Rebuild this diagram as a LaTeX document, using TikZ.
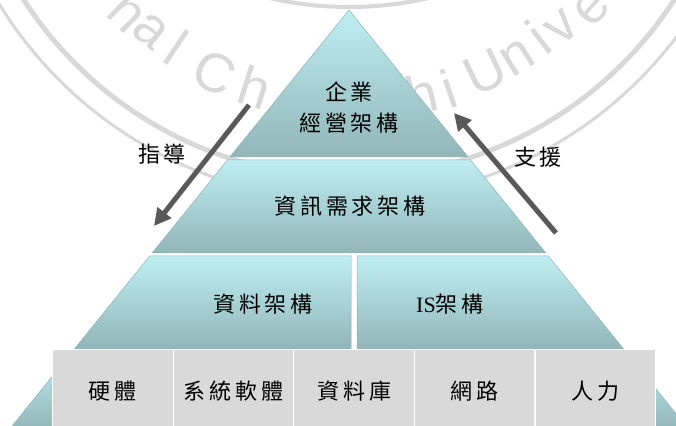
\documentclass[tikz,border=0pt]{standalone}
\usepackage{fontspec}
\setmainfont{Liberation Serif}
\newfontfamily\cjk[LetterSpace=18]{Noto Sans CJK TC}
\newfontfamily\wmfont{Liberation Sans}
\usetikzlibrary{arrows.meta}
\definecolor{bandtop}{RGB}{190,238,242}
\definecolor{bandbot}{RGB}{146,181,184}
\definecolor{bandedge}{RGB}{140,178,181}
\definecolor{cellfill}{RGB}{217,217,217}
\definecolor{wm}{RGB}{216,216,216}
\definecolor{arrowc}{RGB}{89,89,89}
\begin{document}
\begin{tikzpicture}[x=1pt,y=1pt,
  band/.style={top color=bandtop,bottom color=bandbot,draw=bandedge,line width=0.5pt},
  lbl/.style={font=\cjk\fontsize{22}{26}\selectfont,inner sep=0pt,text=black},
  cell/.style={fill=cellfill,draw=white,line width=1.2pt,minimum width=120.6pt,minimum height=84pt,anchor=north west,inner sep=0pt,font=\cjk\fontsize{22}{26}\selectfont},
  guide/.style={draw=arrowc,line width=5pt,-{Triangle[length=17pt,width=17pt]}},
  wmring/.style={draw=wm},
  wmletter/.style={text=wm,font=\wmfont\fontsize{55}{55}\selectfont,inner sep=0pt}]
\useasboundingbox (0,0) rectangle (676,425);
\clip (0,0) rectangle (676,425);
% watermark
\draw[wmring,line width=5pt] (349,635) circle (387);
\draw[wmring,line width=3pt] (349,635) circle (410);
\draw[wmring,line width=4pt] (349,771) circle (353);
\node[wmletter,rotate=-44.7] (w1) at (126,410) {n};
\node[wmletter,rotate=-39.4] (w2) at (151,394) {a};
\node[wmletter,rotate=-33.8] (w3) at (177,378) {l};
\node[wmletter,rotate=-25.3] (w4) at (215,352) {C};
\node[wmletter,rotate=-17.6] (w5) at (255,338) {h};
\node[wmletter,rotate=13.5] (w6) at (422,331) {h};
\node[wmletter,rotate=19] (w7) at (449,336) {i};
\node[wmletter,rotate=25.7] (w8) at (485,353) {U};
\node[wmletter,rotate=32.2] (w9) at (518,367) {n};
\node[wmletter,rotate=37.4] (w10) at (538,388) {i};
\node[wmletter,rotate=41.8] (w11) at (562,397) {v};
\node[wmletter,rotate=48.1] (w12) at (592,417) {e};
% pyramid bands
\path[band] (349,415) -- (468.1,268) -- (229.9,268) -- cycle;
\path[band] (227.5,265) -- (470.5,265) -- (545.8,172) -- (152.2,172) -- cycle;
\path[band] (149.7,169) -- (351,169) -- (351,76) -- (74.4,76) -- cycle;
\path[band] (357,169) -- (548.3,169) -- (623.6,76) -- (357,76) -- cycle;
\path[band] (72,73) -- (626,73) -- (689.2,-5) -- (8.8,-5) -- cycle;
% labels
\node[lbl] (top1) at (349,333) {企業};
\node[lbl] (top2) at (349,302) {經營架構};
\node[lbl] (info) at (350,219) {資訊需求架構};
\node[lbl] (data) at (263,121) {資料架構};
\node[lbl] (isa) at (450,121) {{\rmfamily IS}架構};
% table
\node[cell] (c1) at (52,76) {硬體};
\node[cell] (c2) at (172.6,76) {系統軟體};
\node[cell] (c3) at (293.2,76) {資料庫};
\node[cell] (c4) at (413.8,76) {網路};
\node[cell] (c5) at (534.4,76) {人力};
% guide arrows
\coordinate (g1s) at (249,320);
\coordinate (g1e) at (154,199);
\coordinate (g2s) at (556,192);
\coordinate (g2e) at (454,312);
\draw[guide] (g1s) -- (g1e);
\draw[guide] (g2s) -- (g2e);
\node[lbl] (lead) at (162,271) {指導};
\node[lbl] (supp) at (538,268) {支援};
\end{tikzpicture}
\end{document}
